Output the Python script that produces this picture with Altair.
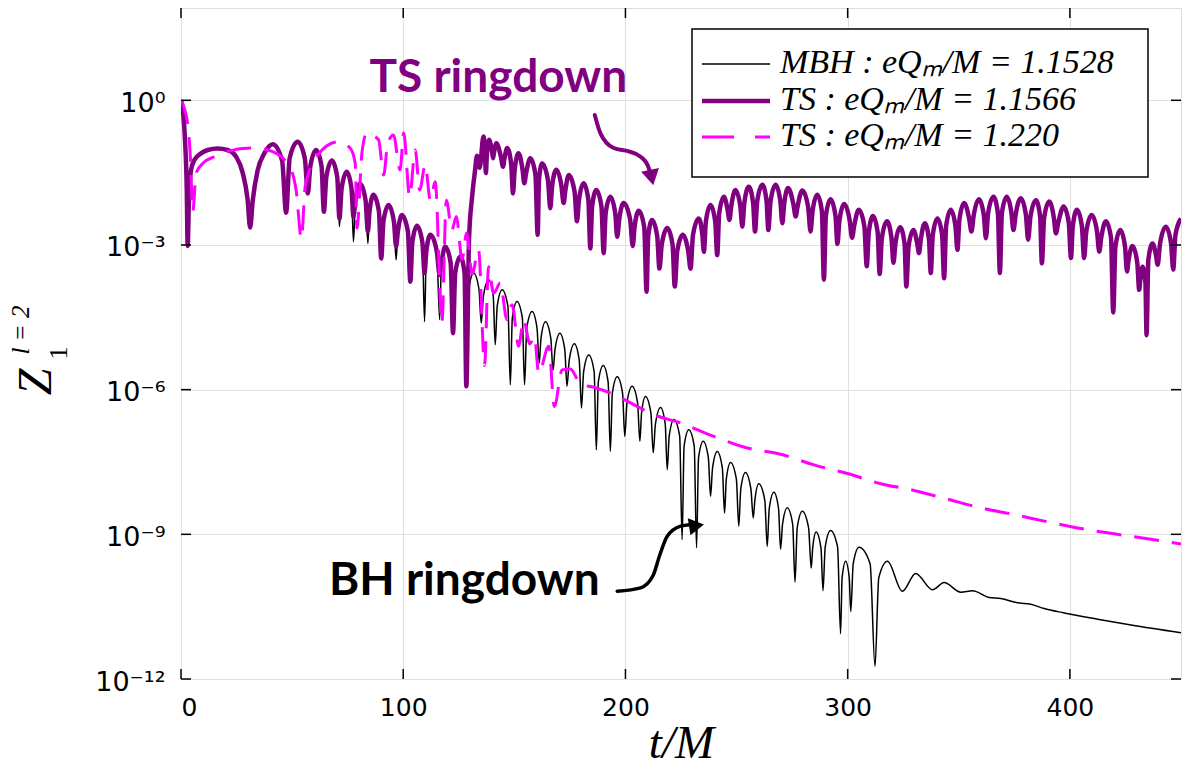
import altair as alt
import pandas as pd

# ---------------- data: (t/M, log10 |Z|) ----------------
# TS : eQm/M = 1.1566  (purple, thick)
ts1_pts = [
    (0, 0), (0.8, -0.2), (1.8, -0.82), (2.6, -1.86), (3.0, -3.02), (3.6, -2.0), (4.5, -1.45), (6.0, -1.24),
    (9.0, -1.1), (12.0, -1.03), (16.5, -1.0), (21.0, -1.03), (24.8, -1.17), (27.8, -1.51), (30.0, -2.07),
    (31.1, -2.64), (32.3, -2.07), (34.5, -1.45), (37.5, -1.1), (41.3, -0.91),
    (45.5, -1.25), (47.3, -2.33), (48.9, -1.2), (52.5, -0.86),
    (55.7, -1.2), (57.1, -1.93), (58.2, -1.37), (60.8, -1.03),
    (63.25, -1.37), (64.3, -2.31), (65.4, -1.59), (67.9, -1.25),
    (70.3, -1.59), (71.3, -2.45), (72.3, -1.82), (74.6, -1.48),
    (76.7, -1.82), (77.6, -2.41), (78.5, -2.07), (80.6, -1.73),
    (83.05, -2.07), (84.1, -2.72), (84.85, -2.3), (86.6, -1.96),
    (89.05, -2.3), (90.1, -3.28), (91.1, -2.51), (93.4, -2.17),
    (95.8, -2.51), (96.8, -3.03), (97.6, -2.72), (99.4, -2.38),
    (102.1, -2.72), (103.2, -3.76), (104.1, -2.94), (106.2, -2.6),
    (108.6, -2.94), (109.6, -3.58), (110.4, -3.13), (112.2, -2.79),
    (115.1, -3.13), (116.4, -3.62), (117.2, -3.37), (118.9, -3.03),
    (121.35, -3.37), (122.4, -4.83), (123.4, -3.58), (125.7, -3.24),
    (127.6, -3.58), (128.4, -5.93), (129.6, -2.9), (131.0, -2.0), (132.2, -1.5), (133.2, -1.15),
    (134.4, -1.4), (136.1, -0.75),
    (136.77, -1.09), (137.2, -1.51), (137.6, -1.16), (138.6, -0.82),
    (139.9, -1.05), (140.4, -1.2), (140.85, -1.08), (141.9, -0.89),
    (144.0, -1.18), (144.9, -1.38), (145.5, -1.22), (146.8, -0.99),
    (148.6, -1.33), (149.4, -1.93), (150.15, -1.44), (151.9, -1.1),
    (153.7, -1.44), (154.5, -1.72), (155.3, -1.51), (157.2, -1.2),
    (159.5, -1.54), (160.5, -2.79), (161.1, -1.65), (162.5, -1.31),
    (165.1, -1.65), (166.2, -2.24), (167.0, -1.78), (168.9, -1.44),
    (171.2, -1.78), (172.2, -2.13), (172.9, -1.89), (174.5, -1.55),
    (177.1, -1.89), (178.2, -2.51), (179.1, -2.06), (181.2, -1.72),
    (183.3, -2.06), (184.2, -3.07), (185.0, -2.2), (186.9, -1.86),
    (189.2, -2.2), (190.2, -3.17), (191.1, -2.34), (193.2, -2.0),
    (195.4, -2.34), (196.3, -2.83), (197.2, -2.47), (199.2, -2.13),
    (202.1, -2.47), (203.3, -3.02), (204.1, -2.63), (206.0, -2.29),
    (208.45, -2.63), (209.5, -3.97), (210.25, -2.82), (212.0, -2.48),
    (214.3, -2.82), (215.3, -3.49), (216.35, -2.99), (218.8, -2.65),
    (221.2, -2.99), (222.2, -3.86), (223.3, -3.13), (225.8, -2.79),
    (228.25, -3.13), (229.3, -3.49), (230.4, -2.79), (233.0, -2.45),
    (234.6, -2.79), (235.3, -3.14), (236.2, -2.51), (238.3, -2.17),
    (240.4, -2.51), (241.3, -3.21), (242.2, -2.34), (244.3, -2.0),
    (246.05, -2.29), (246.8, -2.48), (247.6, -2.2), (249.5, -1.86),
    (251.7, -2.2), (252.6, -2.62), (253.5, -2.13), (255.5, -1.79),
    (257.45, -2.13), (258.3, -2.72), (259.3, -2.09), (261.6, -1.75),
    (263.5, -2.09), (264.3, -2.69), (265.3, -2.09), (267.6, -1.75),
    (269.7, -2.09), (270.6, -2.55), (271.4, -2.16), (273.2, -1.82),
    (275.6, -2.16), (276.6, -2.41), (277.5, -2.19), (279.6, -1.87),
    (282.2, -2.21), (283.3, -2.72), (284.2, -2.3), (286.3, -1.96),
    (288.4, -2.3), (289.3, -3.72), (290.2, -2.39), (292.3, -2.05),
    (294.5, -2.39), (295.4, -2.98), (296.3, -2.49), (298.4, -2.15),
    (300.9, -2.49), (302.0, -2.85), (302.9, -2.61), (305.0, -2.27),
    (307.5, -2.61), (308.6, -3.44), (309.5, -2.74), (311.4, -2.4),
    (313.5, -2.74), (314.4, -3.6), (315.4, -2.85), (317.7, -2.51),
    (319.7, -2.85), (320.6, -3.37), (321.5, -2.97), (323.6, -2.63),
    (325.6, -2.97), (326.4, -3.86), (327.4, -3.03), (329.6, -2.69),
    (331.35, -2.98), (332.1, -3.17), (332.9, -2.89), (334.7, -2.55),
    (336.6, -2.89), (337.4, -3.58), (338.3, -2.79), (340.4, -2.45),
    (342.5, -2.79), (343.4, -3.69), (344.3, -2.61), (346.4, -2.27),
    (348.5, -2.61), (349.4, -3.1), (350.3, -2.47), (352.4, -2.13),
    (354.7, -2.46), (355.7, -2.72), (356.7, -2.39), (359.1, -2.05),
    (361.3, -2.39), (362.2, -2.86), (363.2, -2.34), (365.6, -2.0),
    (367.6, -2.34), (368.5, -3.58), (369.4, -2.34), (371.6, -2.0),
    (373.7, -2.34), (374.6, -2.69), (375.6, -2.37), (377.9, -2.03),
    (380.2, -2.37), (381.2, -2.89), (382.25, -2.41), (384.7, -2.07),
    (386.6, -2.41), (387.4, -3.38), (388.4, -2.44), (390.7, -2.1),
    (392.8, -2.44), (393.7, -2.76), (394.75, -2.54), (397.2, -2.2),
    (399.5, -2.54), (400.5, -3.27), (401.3, -2.61), (403.2, -2.27),
    (405.4, -2.61), (406.4, -3.27), (407.4, -2.72), (409.8, -2.38),
    (412.2, -2.72), (413.2, -3.14), (414.1, -2.85), (416.2, -2.51),
    (418.5, -2.85), (419.5, -4.4), (420.5, -3.03), (422.7, -2.69),
    (424.8, -3.03), (425.7, -3.55), (426.45, -3.3), (428.2, -3.02),
    (430.3, -3.36), (431.2, -3.93), (431.65, -3.72), (432.7, -3.45),
    (434.0, -3.79), (434.5, -4.87), (435.3, -3.31), (437.2, -2.97),
    (438.8, -3.23), (439.5, -3.41), (440.6, -2.96), (443.2, -2.62),
    (445.5, -2.96), (446.5, -3.51), (447.5, -2.79), (450.0, -2.45),
]

# MBH : eQm/M = 1.1528  (black, thin) -- hidden under the purple curve before t ~ 128
mbh_pts = [
    (0, 0), (0.8, -0.2), (1.8, -0.82), (2.6, -1.86), (3.0, -3.02), (3.6, -2.0), (4.5, -1.45), (6.0, -1.24),
    (9.0, -1.1), (12.0, -1.03), (16.5, -1.0), (21.0, -1.03), (24.8, -1.17), (27.8, -1.51), (30.0, -2.07),
    (31.1, -2.64), (32.3, -2.07), (34.5, -1.45), (37.5, -1.1), (41.3, -0.91),
    (45.5, -1.25), (47.3, -2.33), (48.9, -1.2), (52.5, -0.86),
    (55.7, -1.2), (57.1, -1.93), (58.2, -1.37), (60.8, -1.03),
    (63.25, -1.37), (64.3, -2.31), (65.4, -1.59), (67.9, -1.25),
    (70.3, -1.59), (71.3, -2.62), (72.3, -1.82), (74.6, -1.48),
    (76.7, -1.82), (77.6, -2.93), (78.5, -2.07), (80.6, -1.73),
    (83.05, -2.07), (84.1, -2.97), (84.85, -2.3), (86.6, -1.96),
    (89.05, -2.3), (90.1, -3.28), (91.1, -2.51), (93.4, -2.17),
    (95.8, -2.51), (96.8, -3.31), (97.6, -2.72), (99.4, -2.38),
    (102.1, -2.72), (103.2, -3.76), (104.1, -2.94), (106.2, -2.6),
    (108.6, -2.94), (109.6, -4.59), (110.4, -3.13), (112.2, -2.79),
    (115.1, -3.13), (116.4, -4.55), (117.2, -3.37), (118.9, -3.03),
    (121.35, -3.37), (122.4, -4.83), (123.4, -3.58), (125.7, -3.24),
    (127.7, -3.58), (128.6, -5.6), (129.5, -3.92), (131.7, -3.58),
    (134.1, -3.92), (135.1, -4.62), (136.1, -4.06), (138.4, -3.72),
    (140.5, -4.06), (141.4, -5.07), (142.3, -4.27), (144.5, -3.93),
    (147.1, -4.27), (148.2, -5.9), (149.1, -4.51), (151.2, -4.17),
    (153.6, -4.51), (154.6, -5.9), (155.6, -4.72), (158.0, -4.38),
    (160.2, -4.72), (161.2, -5.45), (162.0, -4.93), (164.0, -4.59),
    (166.4, -4.93), (167.4, -5.6), (168.3, -5.17), (170.5, -4.83),
    (172.7, -5.17), (173.7, -5.93), (174.7, -5.39), (177.0, -5.05),
    (179.2, -5.39), (180.2, -6.38), (181.2, -5.62), (183.5, -5.28),
    (185.9, -5.62), (186.9, -7.25), (187.8, -5.84), (190.0, -5.5),
    (192.2, -5.84), (193.2, -7.28), (194.1, -6.07), (196.3, -5.73),
    (198.7, -6.07), (199.7, -6.97), (200.7, -6.27), (203.0, -5.93),
    (205.45, -6.27), (206.5, -7.07), (207.25, -6.48), (209.0, -6.14),
    (211.45, -6.48), (212.5, -7.31), (213.5, -6.71), (215.8, -6.37),
    (217.9, -6.71), (218.8, -7.66), (219.7, -6.96), (221.8, -6.62),
    (224.4, -6.96), (225.5, -9.11), (226.4, -7.17), (228.5, -6.83),
    (230.95, -7.17), (232.0, -9.28), (232.9, -7.41), (235.0, -7.07),
    (237.3, -7.41), (238.3, -8.21), (239.2, -7.62), (241.3, -7.28),
    (243.6, -7.62), (244.6, -8.56), (245.4, -7.85), (247.3, -7.51),
    (249.9, -7.85), (251.0, -8.83), (251.9, -8.06), (254.0, -7.72),
    (256.45, -8.06), (257.5, -8.66), (258.25, -8.29), (260.0, -7.95),
    (262.7, -8.29), (263.8, -9.25), (264.7, -8.47), (266.8, -8.13),
    (268.9, -8.47), (269.8, -9.31), (270.7, -8.79), (272.8, -8.45),
    (275.25, -8.79), (276.3, -9.99), (277.3, -8.86), (279.6, -8.52),
    (282.4, -8.86), (283.6, -9.70), (284.26, -9.28), (285.8, -8.95),
    (288.0, -9.29), (288.9, -10.17), (289.9, -9.26), (292.3, -8.92),
    (295.45, -9.26), (296.8, -11.06), (297.5, -9.9), (299.1, -9.56),
    (300.7, -9.9), (301.4, -10.6), (302.5, -9.61), (305.1, -9.27),
    (310.1, -9.61), (312.3, -11.74), (314.0, -9.9), (317.9, -9.56),
    (324.6, -10.18), (330.6, -9.81), (338.2, -10.15), (343.4, -10.0), (350.9, -10.2), (356.2, -10.17),
    (363.6, -10.31), (368.9, -10.33), (376.4, -10.42), (382.4, -10.45), (388.4, -10.54), (397.4, -10.63),
    (412.5, -10.76), (427.5, -10.88), (450.0, -11.04),
]

# TS : eQm/M = 1.220  (magenta, dashed)
ts2_pts = [
    (0, 0), (3.0, -0.48), (4.2, -1.17), (5.3, -2.31), (6.8, -1.51), (10.0, -1.3), (15.0, -1.17), (21.0, -1.06),
    (31.5, -0.99), (39.0, -1.03), (48.0, -1.31), (51.8, -1.86), (54.2, -2.87), (55.9, -1.79), (61.6, -1.13),
    (70.6, -0.86), (76.1, -0.99), (78.4, -1.31), (79.2, -2.65), (81.4, -1.1), (83.6, -0.68), (88.9, -0.82),
    (91.2, -1.55), (93.0, -0.9), (95.6, -0.72), (98.6, -1.44), (100.2, -0.68), (102.9, -2.0), (105.4, -1.03),
    (107.4, -1.86), (109.9, -1.34), (112.2, -2.07), (114.4, -1.69), (117.4, -4.62), (119.4, -2.07),
    (121.9, -2.69), (123.9, -2.41), (126.5, -3.3), (128.5, -2.75), (131.0, -3.6), (133.9, -3.1), (136.6, -5.5),
    (138.4, -3.45), (140.7, -4.0), (143.7, -3.79), (146.7, -4.55), (149.0, -4.24), (151.9, -5.1), (154.2, -4.55),
    (157.0, -5.05), (159.0, -4.9), (161.0, -5.66), (165.5, -5.1), (168.0, -6.35), (171.5, -5.59), (175.2, -5.57),
    (179.7, -5.88), (185.7, -5.95), (194.8, -6.1), (203.8, -6.31), (212.8, -6.52), (224.8, -6.69), (239.8, -6.97),
    (254.8, -7.21), (269.8, -7.34), (284.8, -7.56), (299.9, -7.74), (314.9, -7.95), (329.9, -8.09), (344.9, -8.27),
    (359.9, -8.45), (374.9, -8.59), (389.9, -8.74), (404.9, -8.88), (419.9, -8.99), (435.0, -9.09), (450.0, -9.2),
]

series_names = ["MBH : eQₘ/M = 1.1528", "TS : eQₘ/M = 1.1566", "TS : eQₘ/M = 1.220"]
series_colors = ["#000000", "#800080", "#ff00ff"]

x_ticks = [0, 100, 200, 300, 400]
y_tick_exp = [0, -3, -6, -9, -12]
y_tick_labels = ["10⁰", "10⁻³", "10⁻⁶", "10⁻⁹", "10⁻¹²"]

# annotations (data coordinates)
ann_text = ["TS ringdown", "BH ringdown"]
ann_t = [142.8, 127.5]
ann_e = [0.178, -10.26]
arrow_ts_pts = [(186.2, -0.305), (188.7, -0.68), (194.7, -0.99), (201.5, -1.06), (206.8, -1.17), (209.8, -1.33),
                (211.2, -1.5)]
arrow_bh_pts = [(196.3, -10.18), (206.8, -10.11), (212.5, -9.85), (215.3, -9.45), (218.8, -9.04), (224.8, -8.83),
                (229.0, -8.8)]
head_pts = [(211.8, -1.6), (232.0, -8.82)]

# ---------------- build tables ----------------
def table(pts):
    return pd.DataFrame({"t": [p[0] for p in pts], "Z": [10.0 ** p[1] for p in pts], "i": range(len(pts))})


W, H = 1000, 671
xs = alt.Scale(domain=[0, 450], nice=False, zero=False)
ys = alt.Scale(type="log", domain=[1e-12, 10 ** 1.914], nice=False)

expr = ""
for ex, lab in zip(y_tick_exp[:-1], y_tick_labels[:-1]):
    expr += f"datum.value > {10.0 ** (ex - 1.5):.3e} ? '{lab}' : "
expr += f"'{y_tick_labels[-1]}'"

xaxis = alt.Axis(values=x_ticks, title="t/M", titleFont="Liberation Serif", titleFontStyle="italic",
                 titleFontWeight="normal", titleFontSize=47, titlePadding=0, titleColor="black",
                 labelFont="DejaVu Sans", labelFontSize=25, labelPadding=16, labelColor="black",
                 labelBaseline="top", grid=True, gridColor="#e0e0e0", gridWidth=1, ticks=False, domain=False)
yaxis = alt.Axis(values=[10.0 ** e for e in y_tick_exp], labelExpr=expr, title=None,
                 labelFont="DejaVu Sans", labelFontSize=27, labelPadding=16, labelColor="black",
                 labelOffset=3, grid=True, gridColor="#e0e0e0", gridWidth=1, ticks=False, domain=False)


def enc(ch):
    return ch.encode(x=alt.X("t:Q", scale=xs, axis=xaxis), y=alt.Y("Z:Q", scale=ys, axis=yaxis),
                     order=alt.Order("i:Q"))


layers = [
    enc(alt.Chart(table(mbh_pts)).mark_line(clip=True, interpolate="monotone", color=series_colors[0],
                                            strokeWidth=1.5)),
    enc(alt.Chart(table(ts1_pts)).mark_line(clip=True, interpolate="monotone", color=series_colors[1],
                                            strokeWidth=4.5, strokeJoin="round")),
    enc(alt.Chart(table(ts2_pts)).mark_line(clip=True, interpolate="monotone", color=series_colors[2],
                                            strokeWidth=3, strokeDash=[25, 13])),
]

# inside ticks on all four sides
xt = pd.DataFrame({"t": x_ticks})
yt = pd.DataFrame({"Z": [10.0 ** e for e in y_tick_exp]})
tick_style = dict(color="black", strokeWidth=1.5)
layers.append(alt.Chart(xt).mark_rule(**tick_style).encode(
    x=alt.X("t:Q", scale=xs, axis=xaxis), y=alt.value(H), y2=alt.value(H - 10)))
layers.append(alt.Chart(xt).mark_rule(**tick_style).encode(
    x=alt.X("t:Q", scale=xs, axis=xaxis), y=alt.value(0), y2=alt.value(10)))
layers.append(alt.Chart(yt).mark_rule(**tick_style).encode(
    y=alt.Y("Z:Q", scale=ys, axis=yaxis), x=alt.value(0), x2=alt.value(10)))
layers.append(alt.Chart(yt).mark_rule(**tick_style).encode(
    y=alt.Y("Z:Q", scale=ys, axis=yaxis), x=alt.value(W), x2=alt.value(W - 10)))

# curved arrows
layers.append(enc(alt.Chart(table(arrow_ts_pts)).mark_line(interpolate="monotone", color="#800080",
                                                            strokeWidth=4, strokeCap="round")))
layers.append(enc(alt.Chart(table(arrow_bh_pts)).mark_line(interpolate="monotone", color="black",
                                                            strokeWidth=3.5, strokeCap="round")))
heads = table(head_pts)
layers.append(alt.Chart(heads.iloc[[0]]).mark_point(shape="triangle-up", filled=True, size=330, angle=168,
                                                   color="#800080", opacity=1).encode(
    x=alt.X("t:Q", scale=xs, axis=xaxis), y=alt.Y("Z:Q", scale=ys, axis=yaxis)))
layers.append(alt.Chart(heads.iloc[[1]]).mark_point(shape="triangle-up", filled=True, size=300, angle=81,
                                                   color="black", opacity=1).encode(
    x=alt.X("t:Q", scale=xs, axis=xaxis), y=alt.Y("Z:Q", scale=ys, axis=yaxis)))

# annotation texts
ann = pd.DataFrame({"t": ann_t, "Z": [10.0 ** e for e in ann_e], "s": ann_text})
for k, col in enumerate(["#800080", "black"]):
    layers.append(alt.Chart(ann.iloc[[k]]).mark_text(font="Lato", fontWeight="bold", fontSize=46, color=col,
                                                     align="center", baseline="alphabetic").encode(
        x=alt.X("t:Q", scale=xs, axis=xaxis), y=alt.Y("Z:Q", scale=ys, axis=yaxis), text="s:N"))

# y-axis title  Z_1^{l=2}
yt_parts = pd.DataFrame({"s": ["Z", "1", "l = 2"]})
layers.append(alt.Chart(yt_parts.iloc[[0]]).mark_text(font="Liberation Serif", fontStyle="italic", fontSize=48,
                                                      angle=270, align="center", baseline="middle",
                                                      color="black").encode(
    x=alt.value(-144), y=alt.value(374), text="s:N"))
layers.append(alt.Chart(yt_parts.iloc[[1]]).mark_text(font="Liberation Serif", fontSize=26, angle=270,
                                                      align="center", baseline="middle", color="black").encode(
    x=alt.value(-122), y=alt.value(345), text="s:N"))
layers.append(alt.Chart(yt_parts.iloc[[2]]).mark_text(font="Liberation Serif", fontStyle="italic", fontSize=25,
                                                      angle=270, align="center", baseline="middle",
                                                      color="black").encode(
    x=alt.value(-160), y=alt.value(322), text="s:N"))

# legend box (top right)
leg_rows_y = [56, 93, 129]
leg_widths = [1.5, 4.5, 3]
leg_dashes = [[1, 0], [1, 0], [32, 21]]
layers.append(alt.Chart(pd.DataFrame({"a": [0]})).mark_rect(fill="white", stroke="black", strokeWidth=1.5).encode(
    x=alt.value(511), x2=alt.value(967), y=alt.value(21), y2=alt.value(169)))
leg_df = pd.DataFrame({"s": series_names})
for k in range(3):
    layers.append(alt.Chart(leg_df.iloc[[k]]).mark_rule(color=series_colors[k], strokeWidth=leg_widths[k],
                                                       strokeDash=leg_dashes[k]).encode(
        x=alt.value(521), x2=alt.value(589), y=alt.value(leg_rows_y[k])))
    layers.append(alt.Chart(leg_df.iloc[[k]]).mark_text(font="Liberation Serif", fontStyle="italic", fontSize=34,
                                                       align="left", baseline="middle", color="black").encode(
        x=alt.value(599), y=alt.value(leg_rows_y[k] - 1), text="s:N"))

chart = alt.layer(*layers).properties(
    width=W, height=H,
    autosize=alt.AutoSizeParams(type="none"),
    padding={"left": 173, "top": 0, "right": 2, "bottom": 92},
).configure_view(stroke="black", strokeWidth=1.5).configure(background="white")

chart.save("out.html", embed_options={"renderer": "svg", "actions": False})
